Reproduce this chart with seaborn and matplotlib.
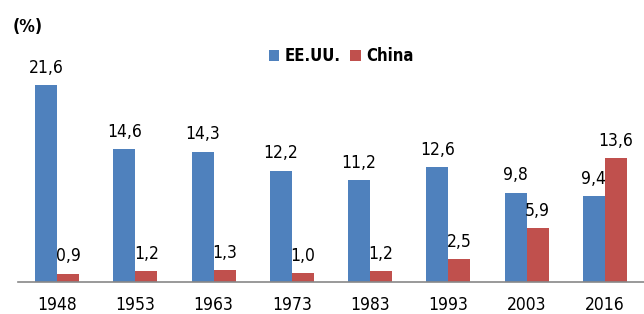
import matplotlib
matplotlib.use('Agg')
import matplotlib.pyplot as plt
import pandas as pd
import seaborn as sns

years = ["1948", "1953", "1963", "1973", "1983", "1993", "2003", "2016"]
usa = [21.6, 14.6, 14.3, 12.2, 11.2, 12.6, 9.8, 9.4]
china = [0.9, 1.2, 1.3, 1.0, 1.2, 2.5, 5.9, 13.6]
series_names = ["EE.UU.", "China"]
colors = ["#4f81bd", "#c0504d"]

df = pd.DataFrame({
    "year": years * 2,
    "value": usa + china,
    "country": [series_names[0]] * len(years) + [series_names[1]] * len(years),
})

sns.set_theme(style="white")
plt.rcParams['font.family'] = ['DejaVu Sans']
plt.rcParams['font.stretch'] = 'condensed'
plt.rcParams['text.color'] = '#000000'

fig = plt.figure(figsize=(6.44, 3.14), dpi=100)
ax = fig.add_axes([0.028, 0.102, 0.972, 0.726])

sns.barplot(data=df, x="year", y="value", hue="country", palette=colors,
            width=0.56, saturation=1, linewidth=0, ax=ax, legend=True)

for cont in ax.containers:
    ax.bar_label(cont, labels=[f"{v:.1f}".replace(".", ",") for v in cont.datavalues],
                 padding=6, fontsize=12.5, color="#000000")

ax.set_ylim(0, 25)
ax.set_xlim(-0.5, len(years) - 0.5)
ax.set_xlabel("")
ax.set_ylabel("")
ax.set_yticks([])
ax.tick_params(axis="x", labelsize=12.5, colors="#000000", pad=10, length=0)
for s in ["top", "right", "left"]:
    ax.spines[s].set_visible(False)
ax.spines["bottom"].set_color("#888888")
ax.spines["bottom"].set_linewidth(1.2)

leg = ax.legend(loc="center", bbox_to_anchor=(0.516, 0.99), ncol=2, frameon=False,
                prop={"weight": "bold", "size": 12, "stretch": "condensed"},
                handlelength=0.65, handleheight=0.65,
                handletextpad=0.3, columnspacing=0.6)
for t in leg.get_texts():
    t.set_color("#000000")

fig.text(0.02, 0.915, "(%)", fontsize=12.5, fontweight="bold", ha="left", va="center")

fig.savefig("out.png", dpi=100)
